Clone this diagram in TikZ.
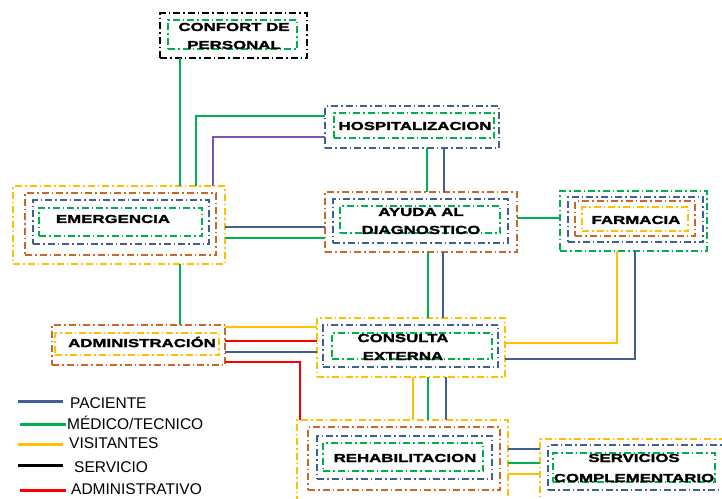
\documentclass[tikz,border=0pt]{standalone}
\usepackage{fontspec}
\setmainfont{Liberation Sans}
\newfontfamily\bxfont[FakeStretch=1.45,FakeBold=2]{Liberation Sans Bold}
\usetikzlibrary{fit}
\definecolor{cblue}{RGB}{62,96,148}
\definecolor{cgreen}{RGB}{0,176,80}
\definecolor{cyel}{RGB}{255,192,0}
\definecolor{cbrown}{RGB}{200,104,44}
\definecolor{cpurp}{RGB}{128,80,180}
\definecolor{cred}{RGB}{255,0,0}
\begin{document}
\begin{tikzpicture}[x=1pt,y=-1pt,
 frame/.style={draw=#1, line width=1.6pt, dash pattern=on 7pt off 3pt on 1.5pt off 3pt, inner sep=0pt, outer sep=0pt},
 lbl/.style={font=\bxfont\fontsize{11.6}{18}\selectfont, align=center, inner sep=0pt},
 conn/.style={draw=#1, line width=1.6pt},
 leg/.style={line width=3pt},
 legtxt/.style={font=\fontsize{15.5}{16}\selectfont, anchor=west, inner sep=0pt}]
\useasboundingbox[fill=white] (0,0) rectangle (722,498);

% CONFORT DE PERSONAL
\node[frame=black, fit={(160,13) (307,58)}] (conf1) {};
\node[frame=cgreen, fit={(168,20) (297,49)}] (conf2) {};
\node[lbl] (conft) at (234,36) {CONFORT DE\\PERSONAL};

% HOSPITALIZACION
\node[frame=cblue, fit={(325,106) (499,148)}] (hosp1) {};
\node[frame=cgreen, fit={(334,113) (494,138)}] (hosp2) {};
\node[lbl] (hospt) at (415,126) {HOSPITALIZACION};

% EMERGENCIA
\node[frame=cyel, fit={(13,186) (225,264)}] (emer1) {};
\node[frame=cbrown, fit={(25,193) (216,255)}] (emer2) {};
\node[frame=cblue, fit={(33,200) (209,244)}] (emer3) {};
\node[frame=cgreen, fit={(39,208) (202,236)}] (emer4) {};
\node[lbl] (emert) at (113,219) {EMERGENCIA};

% AYUDA AL DIAGNOSTICO
\node[frame=cbrown, fit={(325,192) (517,252)}] (ayu1) {};
\node[frame=cblue, fit={(333,199) (508,243)}] (ayu2) {};
\node[frame=cgreen, fit={(340,206) (500,233)}] (ayu3) {};
\node[lbl] (ayut) at (421,221) {AYUDA AL\\DIAGNOSTICO};

% FARMACIA
\node[frame=cgreen, fit={(560,191) (707,251)}] (far1) {};
\node[frame=cblue, fit={(568,197) (703,242)}] (far2) {};
\node[frame=cbrown, fit={(575,201) (695,236)}] (far3) {};
\node[frame=cyel, fit={(582,207) (688,231)}] (far4) {};
\node[lbl] (fart) at (636,220) {FARMACIA};

% ADMINISTRACION
\node[frame=cbrown, fit={(52,325) (225,365)}] (adm1) {};
\node[frame=cyel, fit={(55,333) (219,355)}] (adm2) {};
\node[lbl] (admt) at (142,342) {ADMINISTRACIÓN};

% CONSULTA EXTERNA
\node[frame=cyel, fit={(317,318) (505,377)}] (con1) {};
\node[frame=cblue, fit={(323,325) (498,367)}] (con2) {};
\node[frame=cgreen, fit={(332,333) (492,359)}] (con3) {};
\node[lbl] (cont) at (403,347) {CONSULTA\\EXTERNA};

% REHABILITACION
\node[frame=cyel, fit={(297,420) (508,502)}] (reh1) {};
\node[frame=cbrown, fit={(308,427) (500,490)}] (reh2) {};
\node[frame=cblue, fit={(317,436) (492,479)}] (reh3) {};
\node[frame=cgreen, fit={(323,443) (483,471)}] (reh4) {};
\node[lbl] (reht) at (405,458) {REHABILITACION};

% SERVICIOS COMPLEMENTARIO
\node[frame=cyel, fit={(540,439) (735,510)}] (ser1) {};
\node[frame=cblue, fit={(548,445) (726,490)}] (ser2) {};
\node[frame=cgreen, fit={(553,453) (715,482)}] (ser3) {};
\node[lbl, font=\bxfont\fontsize{11.6}{20}\selectfont] (sert) at (634,468) {SERVICIOS\\COMPLEMENTARIO};

% connectors
\draw[conn=cgreen] (conf1.south -| 180,0) -- (emer1.north -| 180,0);
\draw[conn=cgreen] (emer1.north -| 196,0) |- (hosp1.west |- 0,116);
\draw[conn=cpurp] (emer1.north -| 213,0) |- (hosp1.west |- 0,137);
\draw[conn=cgreen] (hosp1.south -| 427,0) -- (ayu1.north -| 427,0);
\draw[conn=cblue] (hosp1.south -| 444,0) -- (ayu1.north -| 444,0);
\draw[conn=cblue] (emer1.east |- 0,227) -- (ayu1.west |- 0,227);
\draw[conn=cgreen] (emer1.east |- 0,238) -- (ayu1.west |- 0,238);
\draw[conn=cgreen] (ayu1.east |- 0,218) -- (far1.west |- 0,218);
\draw[conn=cgreen] (ayu1.south -| 428,0) -- (con1.north -| 428,0);
\draw[conn=cblue] (ayu1.south -| 443,0) -- (con1.north -| 443,0);
\draw[conn=cyel] (far1.south -| 617,0) |- (con1.east |- 0,343);
\draw[conn=cblue] (far1.south -| 635,0) |- (con1.east |- 0,359);
\draw[conn=cgreen] (emer1.south -| 180,0) -- (adm1.north -| 180,0);
\draw[conn=cyel] (adm1.east |- 0,327) -- (con1.west |- 0,327);
\draw[conn=cred] (adm1.east |- 0,341) -- (con1.west |- 0,341);
\draw[conn=cblue] (adm1.east |- 0,352) -- (con1.west |- 0,352);
\draw[conn=cred] (adm1.east |- 0,362) -| (reh1.north -| 300,0);
\draw[conn=cyel] (con1.south -| 413,0) -- (reh1.north -| 413,0);
\draw[conn=cgreen] (con1.south -| 428,0) -- (reh1.north -| 428,0);
\draw[conn=cblue] (con1.south -| 446,0) -- (reh1.north -| 446,0);
\draw[conn=cblue] (reh1.east |- 0,449) -- (ser1.west |- 0,449);
\draw[conn=cgreen] (reh1.east |- 0,463) -- (ser1.west |- 0,463);
\draw[conn=cyel] (reh1.east |- 0,474) -- (ser1.west |- 0,474);

% legend
\draw[leg,cblue] (18,401) -- (63,401);
\node[legtxt] (l1) at (70,403) {PACIENTE};
\draw[leg,cgreen] (20,424) -- (66,424);
\node[legtxt] (l2) at (67,423) {MÉDICO/TECNICO};
\draw[leg,cyel] (18,444) -- (63,444);
\node[legtxt] (l3) at (69,443) {VISITANTES};
\draw[leg,black] (18,465) -- (63,465);
\node[legtxt] (l4) at (74,467) {SERVICIO};
\draw[leg,cred] (20,490) -- (66,490);
\node[legtxt] (l5) at (71,489) {ADMINISTRATIVO};
\end{tikzpicture}
\end{document}
